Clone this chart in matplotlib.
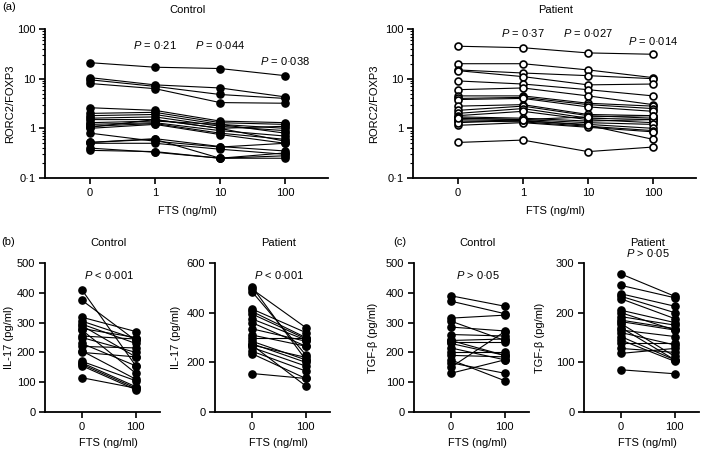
import matplotlib.pyplot as plt
from matplotlib import transforms
from matplotlib.ticker import NullFormatter

plt.rcParams['font.family'] = ['Liberation Sans', 'DejaVu Sans']
plt.rcParams['font.size'] = 8
plt.rcParams['mathtext.fontset'] = 'custom'
plt.rcParams['mathtext.it'] = 'Liberation Sans:italic'
plt.rcParams['mathtext.rm'] = 'Liberation Sans'

# ---- data ----
conc_4 = ['0', '1', '10', '100']
conc_2 = ['0', '100']

# RORC2/FOXP3 ratio, FTS 0 / 1 / 10 / 100 ng/ml
ctrl_rorc = [
    [21, 17, 16, 11.5],
    [10.5, 7.5, 6.5, 4.3],
    [9.5, 7.0, 4.8, 4.0],
    [8.0, 6.3, 3.3, 3.2],
    [2.6, 2.3, 1.4, 1.3],
    [2.0, 2.1, 1.3, 1.2],
    [1.8, 1.9, 1.2, 1.0],
    [1.6, 1.7, 1.1, 0.9],
    [1.5, 1.5, 1.0, 1.1],
    [1.3, 1.4, 1.2, 0.8],
    [1.2, 1.3, 0.9, 0.7],
    [1.1, 1.25, 0.8, 0.6],
    [1.05, 1.5, 1.0, 0.55],
    [1.0, 1.2, 0.75, 0.5],
    [0.8, 0.55, 0.42, 0.5],
    [0.52, 0.62, 0.43, 0.35],
    [0.5, 0.5, 0.38, 0.3],
    [0.4, 0.33, 0.25, 0.28],
    [0.36, 0.34, 0.25, 0.25],
    [0.52, 0.6, 0.25, 0.32],
]
pat_rorc = [
    [45, 42, 33, 31],
    [20, 20, 15, 10.5],
    [15, 13, 11.5, 10],
    [14.5, 11, 7.5, 7.8],
    [9, 7.8, 6, 4.5],
    [6, 6.5, 4.5, 3.0],
    [4.5, 4.5, 3.2, 2.8],
    [4.0, 4.2, 3.0, 2.5],
    [3.8, 4.0, 2.7, 2.2],
    [2.8, 3.0, 1.9, 1.8],
    [2.3, 2.8, 1.8, 1.6],
    [2.0, 2.5, 1.6, 1.5],
    [1.8, 2.2, 1.5, 1.3],
    [1.7, 1.6, 1.4, 1.5],
    [1.6, 1.5, 1.3, 1.2],
    [1.5, 1.4, 1.2, 1.0],
    [1.4, 1.35, 1.1, 0.9],
    [1.15, 1.3, 1.05, 0.85],
    [0.52, 0.58, 0.34, 0.42],
    [1.3, 1.45, 1.15, 0.6],
    [1.6, 1.5, 1.7, 1.8],
]

# IL-17 (pg/ml), FTS 0 -> 100
ctrl_il17_0 = [410, 375, 318, 305, 295, 290, 280, 275, 255, 250, 230, 220, 205, 200, 170, 165, 160, 155, 115]
ctrl_il17_100 = [155, 240, 270, 245, 230, 185, 250, 130, 245, 200, 155, 215, 110, 185, 105, 85, 80, 75, 80]
pat_il17_0 = [505, 495, 485, 415, 405, 395, 375, 360, 335, 310, 300, 285, 275, 270, 260, 245, 235, 155, 270]
pat_il17_100 = [210, 340, 230, 320, 300, 295, 290, 265, 285, 265, 300, 210, 200, 220, 185, 165, 135, 135, 105]

# TGF-beta (pg/ml), FTS 0 -> 100
ctrl_tgf_0 = [390, 372, 315, 305, 285, 260, 240, 235, 230, 215, 200, 190, 175, 165, 150, 130, 240]
ctrl_tgf_100 = [355, 330, 325, 240, 272, 255, 245, 235, 190, 175, 200, 185, 105, 130, 270, 175, 190]
pat_tgf_0 = [278, 255, 238, 233, 228, 205, 192, 185, 182, 178, 165, 160, 152, 145, 138, 128, 118, 85, 200, 170]
pat_tgf_100 = [233, 230, 213, 200, 188, 180, 175, 168, 165, 112, 152, 135, 105, 102, 138, 120, 128, 77, 165, 105]

W, H = 709, 450
fig = plt.figure(figsize=(W / 100, H / 100), dpi=100)


def px_axes(left, top, right, bottom):
    return fig.add_axes([left / W, 1 - bottom / H, (right - left) / W, (bottom - top) / H])


def fig_text(x, y, s, **kw):
    fig.text(x / W, 1 - y / H, s, ha='center', va='center', **kw)


def style(ax):
    for s in ['top', 'right']:
        ax.spines[s].set_visible(False)
    for s in ['left', 'bottom']:
        ax.spines[s].set_linewidth(1.3)
    ax.tick_params(which='major', length=4, width=1.2, pad=3)
    ax.tick_params(which='minor', length=2, width=0.8)


def draw_pairs(ax, rows, open_marker=False):
    for row in rows:
        if open_marker:
            ax.plot(range(len(row)), row, '-o', color='black', lw=0.8, ms=5,
                    mfc='white', mec='black', mew=1.2)
        else:
            ax.plot(range(len(row)), row, '-o', color='black', lw=0.8, ms=5.2)


def under_text(ax, xdata, ypx, s):
    tr = transforms.blended_transform_factory(ax.transData, fig.transFigure)
    ax.text(xdata, 1 - ypx / H, s, transform=tr, ha='center', va='center')


def ylabel_at(ax, text, xpx, left, width):
    # rotated y label: its anchor is the right edge, so shift by half a line
    ax.set_ylabel(text)
    ax.yaxis.set_label_coords((xpx + 5 - left) / width, 0.5)


# ---- (a) RORC2/FOXP3 ----
top_lefts = [45, 413]
top_axes = [px_axes(l, 29, l + 283, 178) for l in top_lefts]
top_data = [ctrl_rorc, pat_rorc]
top_titles = ['Control', 'Patient']
top_ylab_x = [10, 374]
top_p = [[(1, 47, '0·21'), (2, 47, '0·044'), (3, 22.5, '0·038')],
         [(1, 83, '0·37'), (2, 83, '0·027'), (3, 57, '0·014')]]
for i, ax in enumerate(top_axes):
    style(ax)
    draw_pairs(ax, top_data[i], open_marker=(i == 1))
    ax.set_yscale('log')
    ax.set_ylim(0.1, 100)
    ax.set_yticks([0.1, 1, 10, 100], ['0·1', '1', '10', '100'])
    ax.yaxis.set_minor_formatter(NullFormatter())
    ax.set_xlim(-0.69, 3.66)
    ax.set_xticks(range(4), conc_4)
    ylabel_at(ax, 'RORC2/FOXP3', top_ylab_x[i], top_lefts[i], 283)
    for x, y, p in top_p[i]:
        ax.text(x, y, r'$P$ = ' + p, ha='center', va='center')
    under_text(ax, 1.5, 10, top_titles[i])
    under_text(ax, 1.5, 211, 'FTS (ng/ml)')

# ---- (b) IL-17 and (c) TGF-beta ----
bot_spec = [
    (45, 9, ctrl_il17_0, ctrl_il17_100, 500, 'IL-17 (pg/ml)', 'Control', 'P < 0·001', 460),
    (215, 176, pat_il17_0, pat_il17_100, 600, 'IL-17 (pg/ml)', 'Patient', 'P < 0·001', 552),
    (414, 373, ctrl_tgf_0, ctrl_tgf_100, 500, 'TGF-β (pg/ml)', 'Control', 'P > 0·05', 460),
    (584, 540, pat_tgf_0, pat_tgf_100, 300, 'TGF-β (pg/ml)', 'Patient', 'P > 0·05', 320),
]
for left, ylx, v0, v1, ymax, ylab, title, ptxt, py in bot_spec:
    ax = px_axes(left, 263, left + 115, 412)
    style(ax)
    draw_pairs(ax, [[a, b] for a, b in zip(v0, v1)])
    ax.set_ylim(0, ymax)
    step = 100 if ymax <= 500 else 200
    ax.set_yticks(range(0, ymax + 1, step))
    ax.set_xlim(-0.685, 1.45)
    ax.set_xticks(range(2), conc_2)
    ylabel_at(ax, ylab, ylx, left, 115)
    ax.text(0.5, py, '$P$' + ptxt[1:], ha='center', va='center')
    under_text(ax, 0.5, 243, title)
    under_text(ax, 0.5, 443, 'FTS (ng/ml)')

fig_text(9, 7, '(a)')
fig_text(8, 242, '(b)')
fig_text(400, 242, '(c)')

fig.savefig('out.png', dpi=100)
